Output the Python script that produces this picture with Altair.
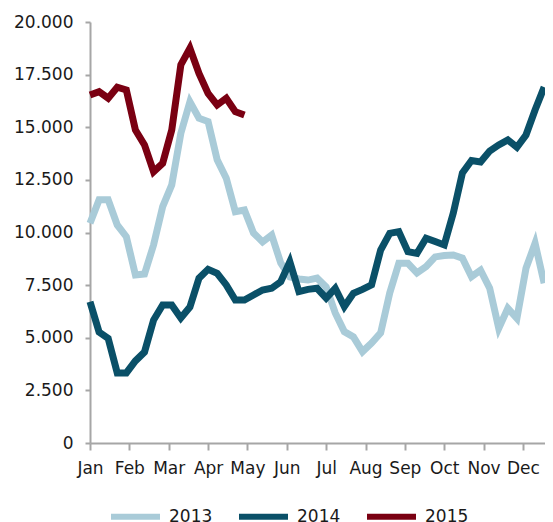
import altair as alt
import pandas as pd

months = ["Jan", "Feb", "Mar", "Apr", "May", "Jun", "Jul", "Aug", "Sep", "Oct", "Nov", "Dec"]

v2013 = [10440, 11550, 11550, 10360, 9800, 7980, 8030, 9410, 11230, 12260,
         14710, 16210, 15430, 15270, 13450, 12580, 10990, 11070, 9980, 9550,
         9880, 8550, 7890, 7790, 7740, 7830, 7410, 6180, 5290, 5040,
         4340, 4750, 5230, 7130, 8540, 8540, 8080, 8380, 8840, 8910,
         8930, 8780, 7900, 8210, 7360, 5450, 6400, 5920, 8300, 9490,
         7590]
v2014 = [6710, 5270, 4970, 3330, 3330, 3900, 4320, 5840, 6560, 6560,
         5940, 6460, 7830, 8250, 8060, 7510, 6790, 6790, 7030, 7270,
         7350, 7660, 8610, 7190, 7300, 7350, 6880, 7350, 6480, 7110,
         7300, 7510, 9170, 9960, 10040, 9090, 9010, 9730, 9570, 9410,
         10930, 12830, 13420, 13350, 13870, 14160, 14400, 14050, 14630, 15820,
         16910]
v2015 = [16530, 16690, 16380, 16900, 16770, 14870, 14160, 12890, 13290, 14870,
         17960, 18750, 17560, 16610, 16060, 16380, 15740, 15580]

series = [("2013", v2013), ("2014", v2014), ("2015", v2015)]
rows = []
for name, vals in series:
    for k, v in enumerate(vals):
        rows.append({"year": name, "m": k * 12 / 52, "value": v})
df = pd.DataFrame(rows)

colors = ["#A9CBD8", "#0A5068", "#7A0012"]

label_expr = "[" + ",".join("'%s'" % m for m in months) + "][round(datum.value)]"

chart = alt.Chart(df).mark_line(strokeWidth=7, strokeJoin="miter", strokeCap="butt").encode(
    x=alt.X("m:Q", scale=alt.Scale(domain=[0, 11.56], nice=False, zero=False),
            axis=alt.Axis(values=list(range(12)), labelExpr=label_expr, title=None,
                          grid=False, tickSize=7, labelPadding=10, labelFontSize=17,
                          labelFont="DejaVu Sans", labelColor="#1a1a1a",
                          domainColor="#a6a6a6", tickColor="#a6a6a6",
                          domainWidth=2, tickWidth=2, labelFlush=False)),
    y=alt.Y("value:Q", scale=alt.Scale(domain=[0, 20000], nice=False),
            axis=alt.Axis(values=[0, 2500, 5000, 7500, 10000, 12500, 15000, 17500, 20000],
                          labelExpr="replace(format(datum.value, ','), ',', '.')",
                          title=None, grid=False, tickSize=5, labelPadding=12,
                          labelFontSize=17, labelFont="DejaVu Sans", labelColor="#1a1a1a",
                          domainColor="#a6a6a6", tickColor="#a6a6a6",
                          domainWidth=2, tickWidth=2)),
    color=alt.Color("year:N", scale=alt.Scale(domain=["2013", "2014", "2015"], range=colors),
                    legend=alt.Legend(title=None, orient="none", direction="horizontal",
                                      legendX=18, legendY=467,
                                      symbolType="stroke", symbolSize=2401,
                                      symbolStrokeWidth=6, labelFontSize=17,
                                      labelFont="DejaVu Sans", labelColor="#1a1a1a",
                                      labelOffset=6, columnPadding=14)),
    detail="year:N",
).properties(
    width=455, height=421,
    padding={"left": 82, "top": 14, "right": 0, "bottom": 79},
    autosize=alt.AutoSizeParams(type="none"),
).configure_view(stroke=None)

chart.save("out.html", embed_options={"renderer": "svg", "actions": False})
